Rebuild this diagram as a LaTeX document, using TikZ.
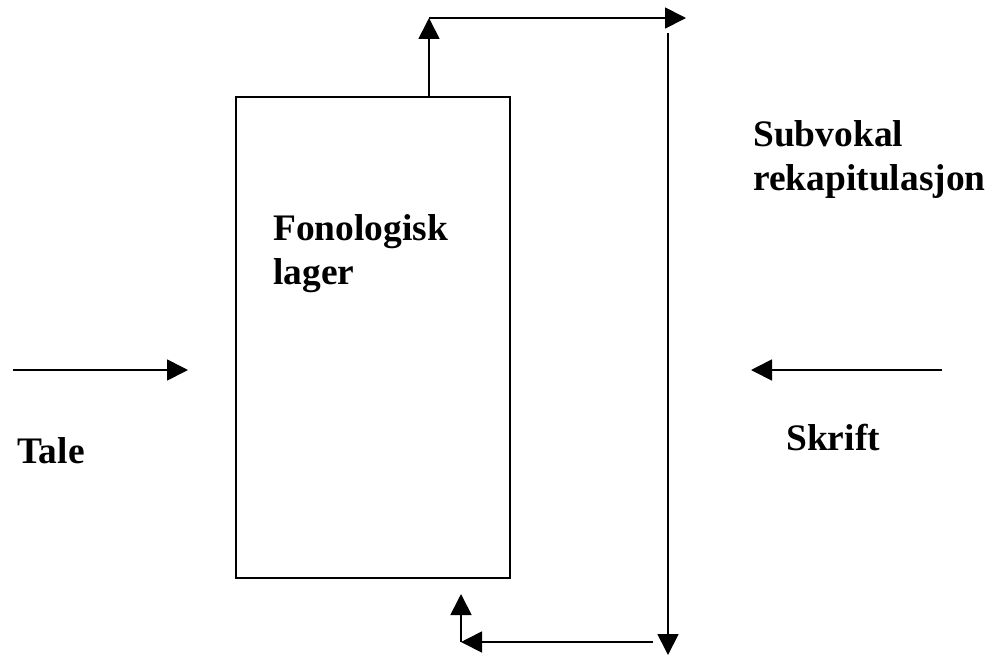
\documentclass[tikz,border=0pt]{standalone}
\usepackage{fontspec}
\setmainfont{Liberation Serif}
\usetikzlibrary{arrows.meta}
\begin{document}
\begin{tikzpicture}[x=0.02cm,y=-0.02cm,
    flow/.style={-{Triangle[length=0.42cm,width=0.42cm]}, line width=1pt},
    tag/.style={anchor=base west, inner sep=0pt, align=left,
      font=\fontsize{21.3}{24.5}\selectfont\bfseries}]
  \useasboundingbox (0,0) rectangle (989,656);
  % store box
  \node[draw, line width=1pt, inner sep=0pt, minimum width=5.48cm,
    minimum height=9.62cm] (store) at (373,337.5) {};
  \node[tag] (storetxt) at (273,284) {Fonologisk\\lager};
  \node[tag] (looptxt) at (753,190) {Subvokal\\rekapitulasjon};
  \node[tag] (tale) at (17,463) {Tale};
  \node[tag] (skrift) at (786,450) {Skrift};
  % loop points
  \coordinate (topL) at (429,18);
  \coordinate (topR) at (686,18);
  \coordinate (loopTop) at (668,33);
  \coordinate (loopBot) at (668,655);
  \coordinate (botR) at (653,642);
  \coordinate (botL) at (461,642);
  \coordinate (botUp) at (461,594);
  % inputs
  \coordinate (taleA) at (13,370);
  \coordinate (taleB) at (188,370);
  \coordinate (skriftA) at (942,370);
  \coordinate (skriftB) at (751,370);
  \draw[flow] (topL |- store.north) -- (topL);
  \draw[flow] (topL) -- (topR);
  \draw[flow] (loopTop) -- (loopBot);
  \draw[flow] (botR) -- (botL);
  \draw[flow] (botL) -- (botUp);
  \draw[flow] (taleA) -- (taleB);
  \draw[flow] (skriftA) -- (skriftB);
\end{tikzpicture}
\end{document}
